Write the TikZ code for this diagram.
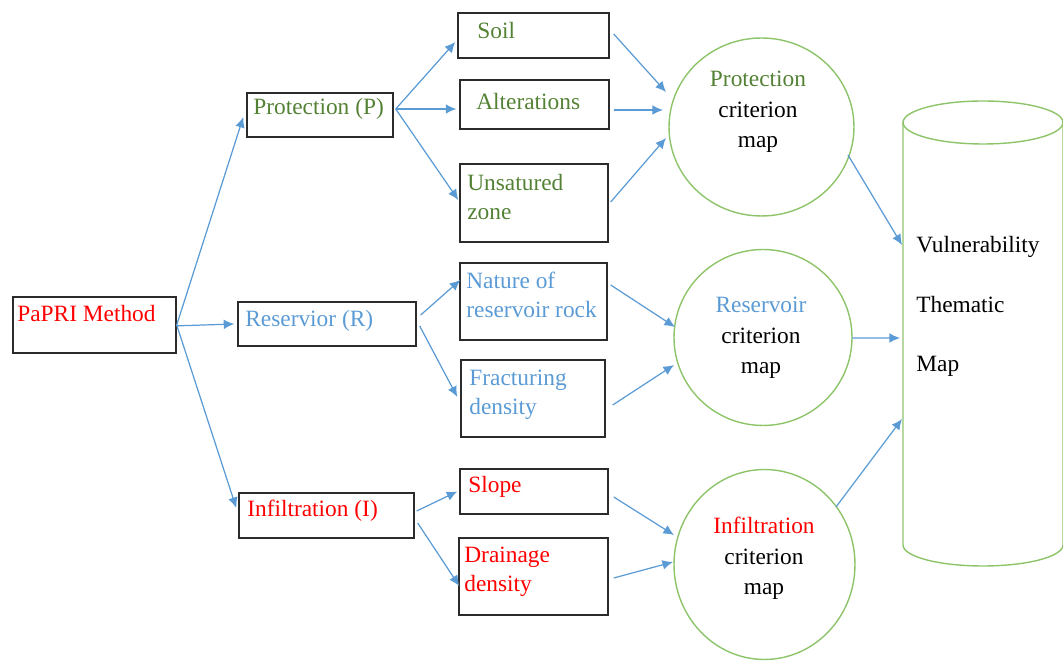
\documentclass[tikz,border=0pt]{standalone}
\usepackage{fontspec}
\setmainfont{Liberation Serif}
\usetikzlibrary{arrows.meta,calc,fit,shapes.geometric}
\definecolor{tgreen}{HTML}{548235}
\definecolor{cgreen}{HTML}{8DC46A}
\definecolor{ablue}{HTML}{5B9BD5}
\definecolor{tred}{HTML}{FF0000}
\definecolor{bdark}{HTML}{2B2B2B}
\begin{document}
\begin{tikzpicture}[x=0.02cm,y=-0.02cm,
 box/.style={draw=bdark,line width=0.8pt,inner sep=0pt,rectangle},
 crit/.style={draw=cgreen,line width=0.8pt,ellipse,inner sep=0pt},
 lbl/.style={inner sep=0pt,anchor=base west,align=left,font=\fontsize{13.3pt}{16.7pt}\selectfont},
 clbl/.style={inner sep=0pt,anchor=base,align=center,font=\fontsize{13.3pt}{17.5pt}\selectfont},
 arr/.style={draw=ablue,line width=0.7pt,-{Latex[length=6pt,width=5.5pt]}},
 cylline/.style={draw=cgreen,line width=0.8pt},
]
\useasboundingbox (0,0) rectangle (1063,661);

% boxes
\node[box,fit={(13,297) (176,353)}] (papri) {};
\node[box,fit={(247,93) (393,137)}] (prot) {};
\node[box,fit={(238,302) (416,346)}] (resv) {};
\node[box,fit={(239,493) (414,538)}] (infl) {};
\node[box,fit={(458,13) (609,58)}] (soil) {};
\node[box,fit={(460,80) (609,129)}] (alt) {};
\node[box,fit={(460,164) (608,242)}] (unsat) {};
\node[box,fit={(460,263) (607,340)}] (nature) {};
\node[box,fit={(461,360) (605,437)}] (frac) {};
\node[box,fit={(460,469) (608,514)}] (slope) {};
\node[box,fit={(459,538) (608,615)}] (drain) {};

% box labels (base anchor = baseline of last line)
\node[lbl,text=tred] at (17,322) {PaPRI Method};
\node[lbl,text=tgreen] at (253,115) {Protection (P)};
\node[lbl,text=ablue] at (245,327) {Reservior (R)};
\node[lbl,text=tred] at (247,517) {Infiltration (I)};
\node[lbl,text=tgreen] at (477,39) {Soil};
\node[lbl,text=tgreen] at (476,110) {Alterations};
\node[lbl,text=tgreen] at (467,220) {Unsatured\\zone};
\node[lbl,text=ablue] at (466,318) {Nature of\\reservoir rock};
\node[lbl,text=ablue] at (469,415) {Fracturing\\density};
\node[lbl,text=tred] at (468,493) {Slope};
\node[lbl,text=tred] at (464,592) {Drainage\\density};

% criterion maps
\node[crit,minimum width=3.7cm,minimum height=3.56cm] (pc) at (761.5,127) {};
\node[crit,minimum width=3.56cm,minimum height=3.52cm] (rc) at (763,337.5) {};
\node[crit,minimum width=3.62cm,minimum height=3.8cm] (ic) at (764.5,564.5) {};
\node[clbl] at (758,148) {\textcolor{tgreen}{Protection}\\criterion\\map};
\node[clbl] at (761,374) {\textcolor{ablue}{Reservoir}\\criterion\\map};
\node[clbl] at (764,595) {\textcolor{tred}{Infiltration}\\criterion\\map};

% cylinder
\draw[cylline] (903,122) -- (903,545) arc[start angle=180,end angle=360,x radius=1.6cm,y radius=0.42cm] -- (1063,122);
\draw[cylline] (983,122.5) ellipse[x radius=1.6cm,y radius=0.43cm];
\node[lbl,font=\fontsize{13.3pt}{34pt}\selectfont] (vmap) at (916,372) {Vulnerability\\Thematic\\Map};
\coordinate (cylA) at (902,245);
\coordinate (cylB) at (900,338);
\coordinate (cylC) at (902,419);

% arrows level 1
\draw[arr] (papri.east) -- ([shift={(-3,2)}]prot.west);
\draw[arr] ([yshift=-0.5]papri.east) -- ([shift={(-3,0)}]resv.west);
\draw[arr] (papri.east) -- ([shift={(-2,-7.5)}]infl.west);
% level 2
\draw[arr] ([shift={(2,-6)}]prot.east) -- ([shift={(-2,6.5)}]soil.west);
\draw[arr] ([shift={(2,-6)}]prot.east) -- ([shift={(-3,4.5)}]alt.west);
\draw[arr] ([shift={(2,-6)}]prot.east) -- ([shift={(-1,-3)}]unsat.west);
\draw[arr] ([shift={(4,-9)}]resv.east) -- ([shift={(1,-21.5)}]nature.west);
\draw[arr] ([shift={(3,2)}]resv.east) -- ([shift={(-3,-1.5)}]frac.west);
\draw[arr] ([shift={(2,-4.5)}]infl.east) -- ([shift={(-2,0)}]slope.west);
\draw[arr] ([shift={(3,7.5)}]infl.east) -- ([shift={(1,9.5)}]drain.west);
% level 3
\draw[arr] ([shift={(4,-1.5)}]soil.east) -- ($(pc)+(-95.5,-35)$);
\draw[arr] ([shift={(4,5.5)}]alt.east) -- ($(pc)+(-98.5,-17)$);
\draw[arr] ([shift={(2,-1)}]unsat.east) -- ($(pc)+(-95.5,11)$);
\draw[arr] ([shift={(3,-16.5)}]nature.east) -- ($(rc)+(-88,-10.5)$);
\draw[arr] ([shift={(7,6.5)}]frac.east) -- ($(rc)+(-89,27.5)$);
\draw[arr] ([shift={(5,5.5)}]slope.east) -- ($(ic)+(-90.5,-29.5)$);
\draw[arr] ([shift={(5,1.5)}]drain.east) -- ($(ic)+(-91.5,-2.5)$);
% level 4
\draw[arr] ($(pc)+(86.5,28)$) -- (cylA);
\draw[arr] ($(rc)+(89,0.5)$) -- (cylB);
\draw[arr] ($(ic)+(71.5,-57.5)$) -- (cylC);
\end{tikzpicture}
\end{document}
